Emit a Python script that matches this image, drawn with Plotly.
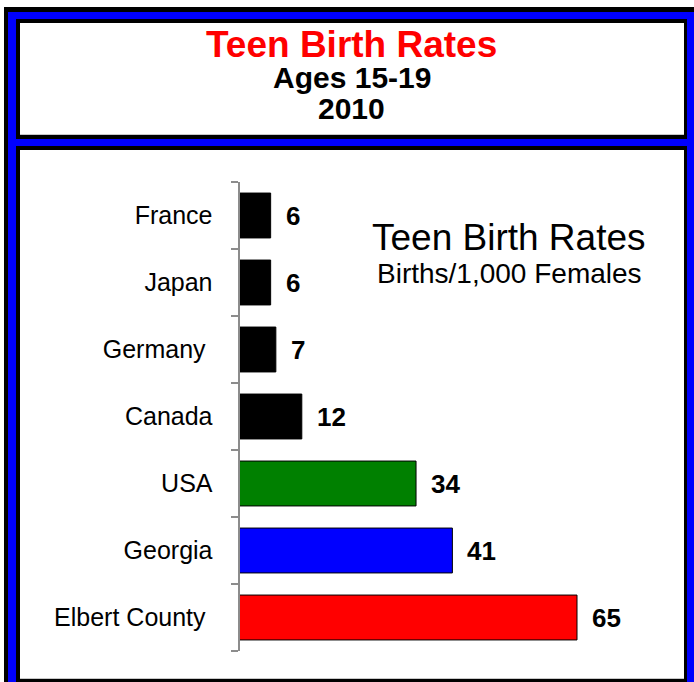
import plotly.graph_objects as go

# ---- data ----
categories = ["France", "Japan", "Germany", "Canada", "USA", "Georgia", "Elbert County"]
tick_labels = ["France", "Japan", "Germany\u00a0", "Canada", "USA", "Georgia", "Elbert County\u00a0"]
rates = [6, 6, 7, 12, 34, 41, 65]
bar_colors = ["#000000", "#000000", "#000000", "#000000", "#008000", "#0000FF", "#FF0000"]

title_main = "Teen Birth Rates"
title_sub1 = "Ages 15-19"
title_sub2 = "2010"
inner_title = "Teen Birth Rates"
inner_sub = "Births/1,000 Females"

W, H = 694, 682
FONT = "Liberation Sans, Arial, sans-serif"


def px(x):
    return x / W


def py(y):
    return 1 - y / H


def rect(x0, y0, x1, y1, color):
    return dict(type="rect", xref="paper", yref="paper",
                x0=px(x0), x1=px(x1), y0=py(y1), y1=py(y0),
                fillcolor=color, line=dict(width=0), layer="below")


shapes = [
    rect(4, 7, 700, 690, "#000000"),
    rect(8, 12, 700, 690, "#0000FF"),
    rect(16, 19, 687, 139, "#000000"),
    rect(20, 23, 684, 135, "#FFFFFF"),
    rect(16, 146, 687, 690, "#000000"),
    rect(20, 150, 684, 679, "#FFFFFF"),
    dict(type="line", xref="paper", yref="paper", x0=px(20), x1=px(684),
         y0=py(134.5), y1=py(134.5), line=dict(color="#c8c8c8", width=1), layer="below"),
    dict(type="line", xref="paper", yref="paper", x0=px(20), x1=px(684),
         y0=py(678.5), y1=py(678.5), line=dict(color="#c8c8c8", width=1), layer="below"),
]

fig = go.Figure()
fig.add_trace(go.Bar(
    y=categories, x=rates, orientation="h",
    marker=dict(color=bar_colors, line=dict(color="#000000", width=1)),
    hoverinfo="skip",
))

annotations = []
for c, v in zip(categories, rates):
    annotations.append(dict(
        x=v, y=c, xref="x", yref="y", text=str(v), showarrow=False,
        xanchor="left", yanchor="middle", xshift=13,
        font=dict(family=FONT, size=26, color="#000000", weight="bold"),
    ))

annotations += [
    dict(x=px(351), y=py(45), xref="paper", yref="paper", text=title_main, showarrow=False,
         xanchor="center", yanchor="middle",
         font=dict(family=FONT, size=37, color="#FF0000", weight="bold")),
    dict(x=px(352), y=py(77.5), xref="paper", yref="paper", text=title_sub1, showarrow=False,
         xanchor="center", yanchor="middle",
         font=dict(family=FONT, size=30, color="#000000", weight="bold")),
    dict(x=px(351), y=py(108.7), xref="paper", yref="paper", text=title_sub2, showarrow=False,
         xanchor="center", yanchor="middle",
         font=dict(family=FONT, size=30, color="#000000", weight="bold")),
    dict(x=px(508.5), y=py(237), xref="paper", yref="paper", text=inner_title, showarrow=False,
         xanchor="center", yanchor="middle",
         font=dict(family=FONT, size=37, color="#000000")),
    dict(x=px(509), y=py(273), xref="paper", yref="paper", text=inner_sub, showarrow=False,
         xanchor="center", yanchor="middle",
         font=dict(family=FONT, size=28, color="#000000")),
]

x_left, x_right = 239.5, 680
scale = (577 - 239.5) / 65.0

fig.update_layout(
    width=W, height=H,
    margin=dict(l=0, r=0, t=0, b=0),
    paper_bgcolor="#FFFFFF",
    plot_bgcolor="rgba(0,0,0,0)",
    showlegend=False,
    bargap=0.33,
    shapes=shapes,
    annotations=annotations,
    xaxis=dict(domain=[px(x_left), px(x_right)], range=[0, (x_right - x_left) / scale],
               visible=False, fixedrange=True),
    yaxis=dict(domain=[py(651), py(182)], type="category",
               categoryorder="array", categoryarray=categories,
               tickmode="array", tickvals=categories, ticktext=tick_labels,
               autorange="reversed",
               showline=True, linecolor="#8c8c8c", linewidth=2,
               ticks="outside", tickson="boundaries", ticklen=7, tickwidth=2, tickcolor="#8c8c8c",
               ticklabelstandoff=20,
               tickfont=dict(family=FONT, size=25, color="#000000"),
               showgrid=False, zeroline=False, fixedrange=True),
)

fig.write_html(
    "out.html",
    config={"displayModeBar": False},
    post_script="document.body.style.margin='0px';document.body.style.overflow='hidden';",
)
